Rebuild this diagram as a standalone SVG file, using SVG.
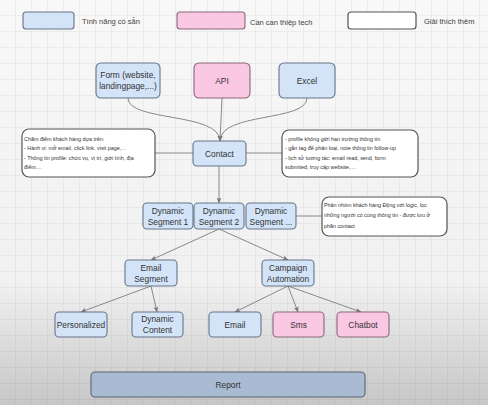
<svg xmlns="http://www.w3.org/2000/svg" width="488" height="405" viewBox="0 0 488 405">
<defs>
<pattern id="grid" width="16" height="16" patternUnits="userSpaceOnUse">
<rect width="16" height="16" fill="#f8f8f8"/>
<path d="M16 0V16M0 16H16" fill="none" stroke="#e3e3e3" stroke-width="1"/>
</pattern>
<linearGradient id="shade" x1="0" y1="0" x2="0" y2="1">
<stop offset="0" stop-color="#000" stop-opacity="0"/>
<stop offset="0.7" stop-color="#000" stop-opacity="0.03"/>
<stop offset="1" stop-color="#000" stop-opacity="0.2"/>
</linearGradient>
<marker id="arr" viewBox="0 0 10 10" refX="9" refY="5" markerWidth="6" markerHeight="6" orient="auto" markerUnits="userSpaceOnUse">
<path d="M0,1 L10,5 L0,9 L2.5,5 Z" fill="#777"/>
</marker>
</defs>
<style>
.blue{fill:#d3e4f8;stroke:#667589;stroke-width:1.1}
.pink{fill:#fbc8e3;stroke:#87687a;stroke-width:1.1}
.note{fill:#fff;stroke:#555;stroke-width:1.2}
.rep{fill:#a8bbd2;stroke:#5a6472;stroke-width:1.1}
.t{font-family:"Liberation Sans",Arial,sans-serif;font-size:8.4px;fill:#333;text-anchor:middle}
.lg{font-family:"Liberation Sans",Arial,sans-serif;font-size:7.5px;fill:#444}
.n{font-family:"Liberation Sans",Arial,sans-serif;font-size:5.4px;fill:#333}
.c{fill:none;stroke:#888;stroke-width:1}
</style>
<rect width="488" height="405" fill="url(#grid)"/>
<rect width="488" height="405" fill="url(#shade)"/>

<g id="legend">
<rect x="23" y="12" width="51" height="17" rx="3" class="blue"/>
<text x="82" y="24" class="lg">Tính năng có sẵn</text>
<rect x="177" y="12" width="68" height="17" rx="3" class="pink"/>
<text x="250" y="25" class="lg">Cần can thiệp tech</text>
<rect x="348" y="12" width="68" height="17" rx="3" class="note"/>
<text x="424" y="24" class="lg">Giải thích thêm</text>
</g>

<g id="connectors">
<path class="c" d="M128,98 C128,122 220,112 220,141" marker-end="url(#arr)"/>
<path class="c" d="M222,98 L220,141" marker-end="url(#arr)"/>
<path class="c" d="M307,98 C307,122 220,112 220,141" marker-end="url(#arr)"/>
<path class="c" d="M155,153 L193,153"/>
<path class="c" d="M246,153 L282,153"/>
<path class="c" d="M219,166 L219,203" marker-end="url(#arr)"/>
<path class="c" d="M296,216 L322,216"/>
<path class="c" d="M219,229 L151,260" marker-end="url(#arr)"/>
<path class="c" d="M219,229 L288,260" marker-end="url(#arr)"/>
<path class="c" d="M151,286 L81,312" marker-end="url(#arr)"/>
<path class="c" d="M151,286 L157,312" marker-end="url(#arr)"/>
<path class="c" d="M288,286 L235,312" marker-end="url(#arr)"/>
<path class="c" d="M288,286 L298,312" marker-end="url(#arr)"/>
<path class="c" d="M288,286 L361,312" marker-end="url(#arr)"/>
</g>

<g id="form"><rect x="96" y="63" width="64" height="35" rx="5" class="blue"/>
<text x="128" y="78" class="t">Form (website,</text><text x="128" y="89" class="t">landingpage,...)</text></g>
<g id="api"><rect x="194" y="63" width="56" height="35" rx="5" class="pink"/>
<text x="222" y="83.5" class="t">API</text></g>
<g id="excel"><rect x="279" y="63" width="56" height="35" rx="5" class="blue"/>
<text x="307" y="83.5" class="t">Excel</text></g>

<g id="note-left"><rect x="22" y="129" width="133" height="48" rx="7" class="note"/>
<text class="n" x="24" y="141">Chấm điểm khách hàng dựa trên:</text>
<text class="n" x="24" y="150">- Hành vi: mở email, click link, visit page,...</text>
<text class="n" x="24" y="160">- Thông tin profile: chức vụ, vị trí, giới tính, địa</text>
<text class="n" x="24" y="169">điểm....</text></g>

<g id="contact"><rect x="193" y="141" width="53" height="25" rx="4" class="blue"/>
<text x="219.5" y="156.5" class="t">Contact</text></g>

<g id="note-right"><rect x="282" y="130" width="136" height="47" rx="7" class="note"/>
<text class="n" x="285" y="141">- profile không giới hạn trường thông tin</text>
<text class="n" x="285" y="150">- gắn tag để phân loại, note thông tin follow-up</text>
<text class="n" x="285" y="160">- lịch sử tương tác: email read, send, form</text>
<text class="n" x="285" y="169">submited, truy cập website,....</text></g>

<g id="seg1"><rect x="143" y="203" width="50" height="26" rx="4" class="blue"/>
<text x="168" y="214" class="t">Dynamic</text><text x="168" y="225" class="t">Segment 1</text></g>
<g id="seg2"><rect x="194" y="203" width="50" height="26" rx="4" class="blue"/>
<text x="219" y="214" class="t">Dynamic</text><text x="219" y="225" class="t">Segment 2</text></g>
<g id="seg3"><rect x="246" y="203" width="50" height="26" rx="4" class="blue"/>
<text x="271" y="214" class="t">Dynamic</text><text x="271" y="225" class="t">Segment ...</text></g>

<g id="note-seg"><rect x="322" y="197" width="125" height="39" rx="7" class="note"/>
<text class="n" x="324" y="207">Phân nhóm khách hàng Động với logic, lọc</text>
<text class="n" x="324" y="217">những người có cùng thông tin - được lưu ở</text>
<text class="n" x="324" y="228">phần contact</text></g>

<g id="email-segment"><rect x="125" y="260" width="52" height="26" rx="4" class="blue"/>
<text x="151" y="271" class="t">Email</text><text x="151" y="282" class="t">Segment</text></g>
<g id="campaign"><rect x="262" y="260" width="52" height="26" rx="4" class="blue"/>
<text x="288" y="271" class="t">Campaign</text><text x="288" y="282" class="t">Automation</text></g>

<g id="personalized"><rect x="55" y="312" width="52" height="25" rx="4" class="blue"/>
<text x="81" y="327.5" class="t">Personalized</text></g>
<g id="dyncontent"><rect x="132" y="312" width="51" height="25" rx="4" class="blue"/>
<text x="157.5" y="322" class="t">Dynamic</text><text x="157.5" y="333" class="t">Content</text></g>
<g id="email"><rect x="209" y="312" width="52" height="25" rx="4" class="blue"/>
<text x="235" y="327.5" class="t">Email</text></g>
<g id="sms"><rect x="273" y="312" width="51" height="25" rx="4" class="pink"/>
<text x="298.5" y="327.5" class="t">Sms</text></g>
<g id="chatbot"><rect x="337" y="312" width="52" height="25" rx="4" class="pink"/>
<text x="363" y="327.5" class="t">Chatbot</text></g>

<g id="report"><rect x="91" y="372" width="274" height="25" rx="4" class="rep"/>
<text x="228" y="387.5" class="t">Report</text></g>
</svg>
